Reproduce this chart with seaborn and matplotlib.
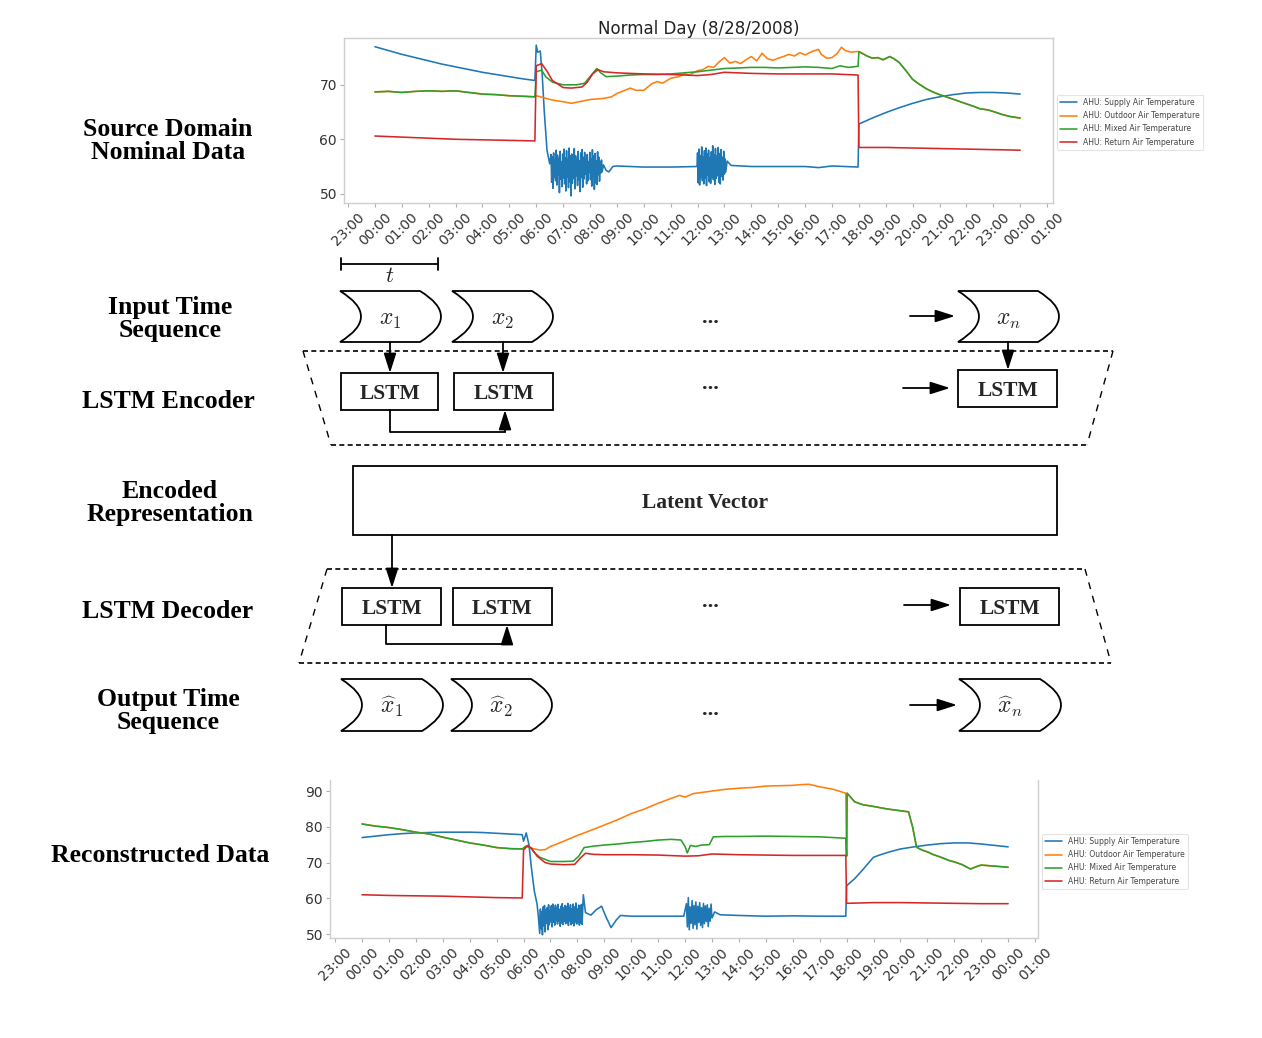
import numpy as np
import pandas as pd
import matplotlib
matplotlib.use("Agg")
import matplotlib.pyplot as plt
import seaborn as sns
from matplotlib.patches import PathPatch, Rectangle
from matplotlib.path import Path

sns.set_theme(style="white")
plt.rcParams["mathtext.fontset"] = "cm"

# ---------------- data ----------------
SERIES = ["AHU: Supply Air Temperature", "AHU: Outdoor Air Temperature",
          "AHU: Mixed Air Temperature", "AHU: Return Air Temperature"]
COLORS = ["#1f77b4", "#ff7f0e", "#2ca02c", "#d62728"]
HOUR_TICKS = list(range(-1, 26))
HOUR_LABELS = [f"{h % 24:02d}:00" for h in HOUR_TICKS]

# ---- Source domain (top chart) ----
SRC_SUP_A_T = [0, 0.5, 1, 1.5, 2, 2.5, 3, 3.5, 4, 4.5, 5, 5.5, 5.95, 6.0, 6.05, 6.15, 6.22, 6.3, 6.4, 6.5]
SRC_SUP_A_V = [77.0, 76.3, 75.6, 75.0, 74.4, 73.8, 73.3, 72.8, 72.3, 71.9, 71.5, 71.1, 70.8, 77.3, 76.0, 76.2, 72.0, 65.0, 58.0, 55.5]
SRC_SUP_BAND1 = [57.2, 52.1, 56.8, 51.0, 57.5, 53.0, 56.2, 52.4, 58.0, 51.6, 57.1, 53.4, 56.5, 50.2, 57.8, 52.7,
                 55.9, 51.3, 57.3, 52.9, 58.2, 51.8, 56.6, 50.5, 57.9, 53.1, 56.3, 51.1, 58.4, 52.2, 57.0, 49.6,
                 57.3, 51.9, 56.9, 52.8, 58.3, 50.9, 57.0, 53.3, 56.4, 51.5, 57.8, 52.5, 56.0, 50.4, 57.5, 53.0,
                 58.1, 51.2, 56.7, 52.7, 57.6, 53.6, 56.3, 51.8, 57.2, 52.4, 55.9, 53.9,
                 57.6, 52.6, 56.4, 51.4, 58.1, 53.2, 56.9, 50.8, 57.4, 52.0, 56.1, 51.7, 57.7, 53.5, 56.7, 52.3,
                 55.8, 53.8, 56.2, 54.0]
SRC_SUP_B_T = [8.5, 8.6, 8.7, 8.85, 9.0, 10, 11, 11.98]
SRC_SUP_B_V = [55.3, 54.3, 54.0, 55.0, 55.1, 54.9, 54.9, 55.0]
SRC_SUP_BAND2 = [57.5, 52.0, 58.2, 51.6, 57.0, 53.1, 58.6, 52.4, 56.8, 51.8, 57.9, 52.9, 58.4, 51.5, 57.3, 53.4,
                 58.0, 52.2, 56.6, 51.9, 57.7, 53.0, 58.8, 52.6, 57.1, 51.7, 58.3, 52.8, 56.9, 53.3, 58.5, 52.1,
                 57.4, 51.8, 58.1, 53.2, 56.7, 52.5, 57.8, 53.6, 56.4, 54.0]
SRC_SUP_C_T = [13.1, 13.25, 14, 15, 16, 16.5, 17, 17.5, 17.97, 18.0, 18.5, 19, 19.5, 20, 20.5, 21, 21.5, 22, 22.5, 23, 23.5, 24]
SRC_SUP_C_V = [56.0, 55.2, 55.0, 55.0, 55.0, 54.8, 55.1, 55.0, 54.9, 62.8, 63.9, 64.9, 65.8, 66.6, 67.3, 67.8, 68.2, 68.5, 68.6, 68.6, 68.5, 68.3]

SRC_MIX_T = [0, 0.5, 1, 1.5, 2, 2.5, 3, 3.5, 4, 4.5, 5, 5.5, 5.95,
             6.0, 6.2, 6.35, 6.6, 7.0, 7.5, 7.8, 8.0, 8.25, 8.4, 8.6, 9.0, 9.5, 10, 10.5, 11, 11.5, 12, 12.5,
             13, 13.5, 14, 14.5, 15, 15.5, 16, 16.5, 17, 17.3, 17.6, 17.97,
             18.0, 18.3, 18.5, 18.7, 18.9, 19.15, 19.3, 19.5, 19.75, 20.0, 20.25, 20.5, 20.75, 21.0, 21.3, 21.6,
             22.0, 22.3, 22.5, 22.8, 23.0, 23.3, 23.6, 24.0]
SRC_MIX_V = [68.7, 68.8, 68.6, 68.8, 68.9, 68.8, 68.9, 68.6, 68.3, 68.2, 68.0, 67.9, 67.8,
             72.4, 72.7, 71.5, 70.5, 70.0, 70.0, 70.3, 71.5, 73.0, 72.2, 71.5, 71.6, 71.8, 71.9, 71.9, 72.0, 72.2, 72.4, 72.7,
             73.0, 73.1, 73.2, 73.2, 73.1, 73.2, 73.3, 73.2, 73.0, 73.5, 73.2, 73.4,
             76.1, 75.3, 74.9, 75.0, 74.6, 75.2, 74.8, 74.1, 72.6, 71.0, 70.1, 69.3, 68.7, 68.2, 67.7, 67.2,
             66.5, 66.0, 65.6, 65.4, 65.1, 64.6, 64.2, 63.9]
SRC_OUT_DAY_T = [6.0, 6.3, 6.6, 7.0, 7.3, 7.6, 8.0, 8.5, 8.8, 9.0, 9.3, 9.5, 9.7, 10.0, 10.3, 10.5, 10.7, 11.0, 11.3,
                 11.5, 11.7, 12.0, 12.2, 12.4, 12.6, 12.8, 13.0, 13.2, 13.4, 13.6, 13.8, 14.0, 14.2, 14.4, 14.6,
                 14.8, 15.0, 15.2, 15.4, 15.6, 15.8, 16.0, 16.3, 16.5, 16.6, 16.8, 17.0, 17.2, 17.35, 17.5, 17.7, 17.9]
SRC_OUT_DAY_V = [68.0, 67.6, 67.2, 66.9, 66.6, 66.9, 67.3, 67.5, 67.8, 68.4, 69.0, 69.4, 69.0, 69.0, 70.2, 70.6, 70.3,
                 71.2, 71.5, 72.0, 71.8, 72.6, 72.8, 73.4, 73.2, 74.2, 75.0, 74.0, 74.3, 73.9, 74.6, 75.2, 74.4,
                 75.8, 74.8, 74.5, 74.9, 75.2, 75.6, 75.3, 75.9, 75.5, 76.2, 76.5, 75.6, 74.9, 75.0, 75.8, 76.9,
                 76.3, 76.0, 76.1]
SRC_RET_T = [0, 1, 2, 3, 4, 5, 5.95, 6.0, 6.2, 6.4, 6.6, 7.0, 7.3, 7.7, 7.9, 8.1, 8.3, 8.5, 9, 10, 11, 12, 12.5,
             13, 14, 15, 16, 17, 17.97, 18.0, 19, 20, 21, 22, 23, 24]
SRC_RET_V = [60.6, 60.4, 60.2, 60.0, 59.9, 59.8, 59.7, 73.5, 73.9, 72.5, 70.8, 69.5, 69.4, 69.6, 70.5, 72.0, 72.8,
             72.4, 72.2, 72.0, 71.9, 71.7, 71.9, 72.3, 72.1, 72.0, 72.0, 72.0, 71.8, 58.5, 58.5, 58.4, 58.3, 58.2,
             58.1, 58.0]

# ---- Reconstructed (bottom chart) ----
REC_SUP_A_T = [0, 0.5, 1, 1.5, 2, 3, 4, 4.5, 5, 5.5, 5.95, 6.0, 6.1, 6.2, 6.3, 6.4, 6.5, 6.55]
REC_SUP_A_V = [77.0, 77.4, 77.8, 78.1, 78.3, 78.5, 78.5, 78.4, 78.2, 78.0, 77.8, 76.0, 78.3, 75.0, 68.0, 62.0, 58.5, 55.0]
REC_SUP_BAND1 = [50.2, 57.0, 51.5, 56.2, 49.8, 57.6, 52.3, 58.0, 50.6, 56.8, 53.0, 57.4, 51.2, 58.2, 52.6, 56.5,
                 53.4, 57.9, 52.0, 58.4, 53.3, 57.2, 52.5, 58.1, 53.8, 57.5, 52.8, 58.3, 53.6, 56.9, 52.2, 57.8,
                 53.1, 58.5, 52.7, 57.3, 53.5, 58.0, 52.9, 57.7, 53.2, 58.6, 52.4, 57.4, 53.7, 58.2, 52.6, 57.1,
                 53.0, 58.4, 52.3, 57.6, 53.4, 58.7, 52.8, 57.0, 53.5, 58.1, 52.5, 57.9, 53.1, 58.3, 52.7, 57.5]
REC_SUP_B_T = [8.22, 8.3, 8.5, 8.7, 8.9, 9.05, 9.25, 9.45, 9.6, 10, 11, 11.95]
REC_SUP_B_V = [61.0, 56.0, 55.3, 56.8, 57.8, 55.0, 51.8, 54.0, 55.2, 55.0, 55.0, 55.0]
REC_SUP_BAND2 = [58.5, 52.0, 60.2, 51.2, 57.6, 53.0, 59.4, 51.6, 58.0, 52.6, 59.0, 51.4, 57.8, 53.2, 58.8, 52.4,
                 57.4, 51.8, 58.6, 52.9, 57.9, 53.5, 58.2, 52.1, 57.2, 53.6, 58.4, 54.5]
REC_SUP_C_T = [13.1, 13.3, 14, 15, 16, 17, 17.97, 18.0, 18.3, 18.6, 19.0, 19.3, 19.6, 20, 20.5, 21, 21.5, 22, 22.5, 23, 23.5, 24]
REC_SUP_C_V = [56.2, 55.4, 55.2, 55.0, 55.1, 55.0, 55.0, 63.5, 65.5, 68.0, 71.5, 72.3, 73.0, 73.8, 74.4, 74.9, 75.3,
               75.5, 75.5, 75.2, 74.8, 74.4]

REC_MIX_T = [0, 0.5, 1, 1.5, 2, 2.5, 3, 3.5, 4, 4.5, 5, 5.5, 5.95,
             6.1, 6.25, 6.4, 6.6, 7.0, 7.5, 7.85, 8.05, 8.25, 8.6, 9, 9.5, 10, 10.5, 11, 11.5, 11.85, 12.0, 12.08,
             12.2, 12.4, 12.6, 12.9, 13.05, 13.5, 14, 15, 16, 17, 17.5, 17.97,
             18.0, 18.02, 18.3, 18.6, 19.0, 19.5, 20.0, 20.3, 20.45, 20.6, 20.8, 21.0, 21.2, 21.5, 21.8, 22.0,
             22.3, 22.6, 22.8, 23.0, 23.5, 24]
REC_MIX_V = [80.8, 80.2, 79.8, 79.2, 78.5, 78.0, 77.1, 76.3, 75.5, 74.9, 74.2, 73.9, 73.8,
             74.6, 74.2, 72.8, 71.5, 70.3, 70.3, 70.4, 71.8, 74.2, 74.6, 74.9, 75.2, 75.6, 75.9, 76.3, 76.5, 76.3,
             74.5, 72.7, 74.8, 74.5, 74.9, 75.0, 77.2, 77.3, 77.3, 77.4, 77.3, 77.2, 77.0, 76.8,
             71.8, 89.4, 87.0, 86.2, 85.7, 85.0, 84.5, 84.2, 80.0, 74.3, 73.5, 73.0, 72.3, 71.5, 70.6, 70.2,
             69.4, 68.2, 68.8, 69.3, 69.0, 68.7]
REC_OUT_DAY_T = [6.1, 6.3, 6.6, 6.8, 7.0, 7.5, 8.0, 8.5, 9.0, 9.5, 10, 10.5, 11, 11.5, 11.8, 12.0, 12.3, 12.6, 13.0,
                 13.5, 14.0, 14.5, 15.0, 15.5, 16, 16.3, 16.6, 17, 17.5, 17.97]
REC_OUT_DAY_V = [74.6, 74.0, 73.5, 73.6, 74.5, 76.0, 77.6, 79.0, 80.5, 82.0, 83.7, 85.0, 86.6, 88.0, 88.8, 88.3,
                 89.3, 89.6, 90.0, 90.5, 90.8, 91.0, 91.4, 91.5, 91.6, 91.8, 91.9, 91.2, 90.5, 89.4]
REC_RET_T = [0, 1, 2, 3, 4, 5, 5.95, 6.0, 6.15, 6.3, 6.5, 6.8, 7.0, 7.5, 7.9, 8.1, 8.3, 8.6, 9, 10, 11, 12, 12.5,
             13, 14, 15, 16, 17, 17.97, 18.0, 19, 20, 21, 22, 23, 24]
REC_RET_V = [61.0, 60.8, 60.7, 60.6, 60.4, 60.2, 60.1, 73.5, 74.8, 74.0, 71.8, 70.0, 69.6, 69.4, 69.5, 71.2, 72.6,
             72.3, 72.2, 72.2, 72.1, 71.8, 71.9, 72.4, 72.2, 72.1, 72.0, 72.0, 72.0, 58.6, 58.8, 58.8, 58.7, 58.6,
             58.5, 58.5]


def pieces_to_frame(pieces, name):
    ts, vs = [], []
    for t, v in pieces:
        ts.extend(list(t))
        vs.extend(list(v))
    return pd.DataFrame({"t": ts, "v": vs, "series": name})


def band(t0, t1, vals):
    return (np.linspace(t0, t1, len(vals)), vals)


def make_frame(sup_a, band1, sup_b, band2, sup_c, mix_t, mix_v, out_t, out_v, ret_t, ret_v):
    sup = pieces_to_frame([sup_a, band1, sup_b, band2, sup_c], SERIES[0])
    mix_t = np.array(mix_t)
    mix_v = np.array(mix_v)
    morning = mix_t < out_t[0]
    evening = mix_t >= 18.0
    out = pieces_to_frame([(mix_t[morning], mix_v[morning]), (out_t, out_v),
                           (mix_t[evening], mix_v[evening])], SERIES[1])
    mix = pieces_to_frame([(mix_t, mix_v)], SERIES[2])
    ret = pieces_to_frame([(ret_t, ret_v)], SERIES[3])
    return pd.concat([sup, out, mix, ret], ignore_index=True)


src_df = make_frame((SRC_SUP_A_T, SRC_SUP_A_V), band(6.55, 8.45, SRC_SUP_BAND1), (SRC_SUP_B_T, SRC_SUP_B_V),
                    band(12.0, 13.05, SRC_SUP_BAND2), (SRC_SUP_C_T, SRC_SUP_C_V),
                    SRC_MIX_T, SRC_MIX_V, SRC_OUT_DAY_T, SRC_OUT_DAY_V, SRC_RET_T, SRC_RET_V)
rec_df = make_frame((REC_SUP_A_T, REC_SUP_A_V), band(6.6, 8.2, REC_SUP_BAND1), (REC_SUP_B_T, REC_SUP_B_V),
                    band(12.05, 13.0, REC_SUP_BAND2), (REC_SUP_C_T, REC_SUP_C_V),
                    REC_MIX_T, REC_MIX_V, REC_OUT_DAY_T, REC_OUT_DAY_V, REC_RET_T, REC_RET_V)

# ---------------- figure ----------------
W, H = 1262, 1038
fig = plt.figure(figsize=(W / 100, H / 100), dpi=100)
fig.patch.set_facecolor("white")

ax0 = fig.add_axes([0, 0, 1, 1])
ax0.set_xlim(0, W)
ax0.set_ylim(H, 0)
ax0.axis("off")


def px_rect(l, r, t, b):
    return [l / W, (H - b) / H, (r - l) / W, (b - t) / H]


def draw_chart(rect, df, xlim, ylim, yticks, anchor, title=None, top_spine=True):
    ax = fig.add_axes(rect)
    sns.lineplot(data=df, x="t", y="v", hue="series", hue_order=SERIES, palette=COLORS,
                 sort=False, estimator=None, linewidth=1.15, ax=ax)
    ax.set_xlim(*xlim)
    ax.set_ylim(*ylim)
    ax.set_xticks(HOUR_TICKS)
    ax.set_xticklabels(HOUR_LABELS, rotation=45)
    ax.set_yticks(yticks)
    ax.set_xlabel("")
    ax.set_ylabel("")
    ax.tick_params(axis="both", bottom=True, left=True, length=3, width=0.8, color="#b0b0b0",
                   labelsize=10, labelcolor="#333333", pad=2)
    for s in ax.spines.values():
        s.set_color("#cfcfcf")
        s.set_linewidth(1.0)
    ax.spines["top"].set_visible(top_spine)
    if title:
        ax.set_title(title, fontsize=12, pad=3, color="#222222")
    sns.move_legend(ax, "upper left", bbox_to_anchor=anchor, title=None, fontsize=5.5,
                    frameon=True, borderaxespad=0, handlelength=2.2, labelspacing=0.55)
    leg = ax.get_legend()
    leg.get_frame().set_edgecolor("#dddddd")
    leg.get_frame().set_linewidth(0.8)
    for t in leg.get_texts():
        t.set_color("#444444")
    return ax


draw_chart(px_rect(344, 1053, 38, 203), src_df, (-1.15, 25.22), (48.3, 78.6), [50, 60, 70],
           (1.006, 0.655), title="Normal Day (8/28/2008)")
draw_chart(px_rect(330, 1038, 780, 938), rec_df, (-1.19, 25.11), (48.9, 93.1), [50, 60, 70, 80, 90],
           (1.006, 0.658), top_spine=False)

# ---------------- diagram ----------------
SERIF = "Liberation Serif"
LBL = dict(family=SERIF, weight="bold", fontsize=18.5, ha="center", va="center",
           multialignment="center", linespacing=1.0, color="black")
ax0.text(168, 141, "Source Domain\nNominal Data", **LBL)
ax0.text(170, 319, "Input Time\nSequence", **LBL)
ax0.text(168, 401, "LSTM Encoder", **LBL)
ax0.text(170, 503, "Encoded\nRepresentation", **LBL)
ax0.text(168, 611, "LSTM Decoder", **LBL)
ax0.text(168, 711, "Output Time\nSequence", **LBL)
ax0.text(160, 856, "Reconstructed Data", **LBL)

LW = 1.3


def chevron(x0, y0, w, h, label, d=21):
    ym = y0 + h / 2
    verts = [(x0, y0), (x0 + w - d, y0), (x0 + w + d, ym), (x0 + w - d, y0 + h),
             (x0, y0 + h), (x0 + 2 * d, ym), (x0, y0), (x0, y0)]
    codes = [Path.MOVETO, Path.LINETO, Path.CURVE3, Path.CURVE3, Path.LINETO, Path.CURVE3, Path.CURVE3,
             Path.CLOSEPOLY]
    ax0.add_patch(PathPatch(Path(verts, codes), facecolor="white", edgecolor="black", lw=LW))
    ax0.text(x0 + w / 2, ym + 2, label, fontsize=17, ha="center", va="center")


def box(l, r, t, b, label, fs=15.5):
    ax0.add_patch(Rectangle((l, t), r - l, b - t, facecolor="white", edgecolor="black", lw=LW))
    ax0.text((l + r) / 2, (t + b) / 2 + 2.5, label, family=SERIF, weight="bold", fontsize=fs,
             ha="center", va="center")


def arrow(x0, y0, x1, y1):
    ax0.annotate("", xy=(x1, y1), xytext=(x0, y0),
                 arrowprops=dict(arrowstyle="-|>,head_length=0.85,head_width=0.27", color="black",
                                 lw=LW, shrinkA=0, shrinkB=0, mutation_scale=14))


def dots(x, y):
    ax0.text(x, y, "...", family=SERIF, weight="bold", fontsize=16, ha="center", va="center")


# time-window bracket
ax0.plot([341, 438], [264, 264], color="black", lw=LW)
ax0.plot([341, 341], [258, 270], color="black", lw=LW)
ax0.plot([438, 438], [258, 270], color="black", lw=LW)
ax0.text(390, 276, r"$t$", fontsize=16, ha="center", va="center")

# input sequence
chevron(340, 291, 101, 51, r"$x_1$")
chevron(452, 291, 101, 51, r"$x_2$")
chevron(958, 291, 101, 51, r"$x_n$")
dots(710, 318)
arrow(910, 316, 955, 316)


def dashed_trapezoid(top, bot):
    (tl, tr, ty), (bl, br, by) = top, bot
    ax0.plot([tl, tr], [ty, ty], color="black", lw=1.2, dashes=(3, 2))
    ax0.plot([bl, br], [by, by], color="black", lw=1.2, dashes=(3, 2))
    ax0.plot([tl, bl], [ty, by], color="black", lw=1.0, dashes=(5, 5))
    ax0.plot([tr, br], [ty, by], color="black", lw=1.0, dashes=(5, 5))


# encoder
dashed_trapezoid((303, 1113, 351), (331, 1087, 445))
arrow(390, 342, 390, 373)
arrow(503, 342, 503, 373)
arrow(1008, 342, 1008, 370)
box(341, 438, 373, 410, "LSTM")
box(454, 553, 373, 410, "LSTM")
box(958, 1057, 370, 407, "LSTM")
dots(710, 384)
arrow(903, 388, 950, 388)
ax0.plot([390, 390, 505], [410, 432, 432], color="black", lw=LW)
arrow(505, 432, 505, 410)

# latent vector
box(353, 1057, 466, 535, "Latent Vector", fs=15.5)
arrow(392, 535, 392, 588)

# decoder
dashed_trapezoid((327, 1085, 569), (299, 1111, 663))
box(342, 441, 588, 625, "LSTM")
box(453, 552, 588, 625, "LSTM")
box(960, 1059, 588, 625, "LSTM")
dots(710, 602)
arrow(904, 605, 951, 605)
ax0.plot([386, 386, 507], [625, 644, 644], color="black", lw=LW)
arrow(507, 644, 507, 625)

# output sequence
chevron(341, 679, 102, 52, r"$\widehat{x}_1$")
chevron(451, 679, 101, 52, r"$\widehat{x}_2$")
chevron(959, 679, 102, 52, r"$\widehat{x}_n$")
dots(710, 710)
arrow(910, 705, 957, 705)

fig.savefig("out.png", dpi=100, facecolor="white")
